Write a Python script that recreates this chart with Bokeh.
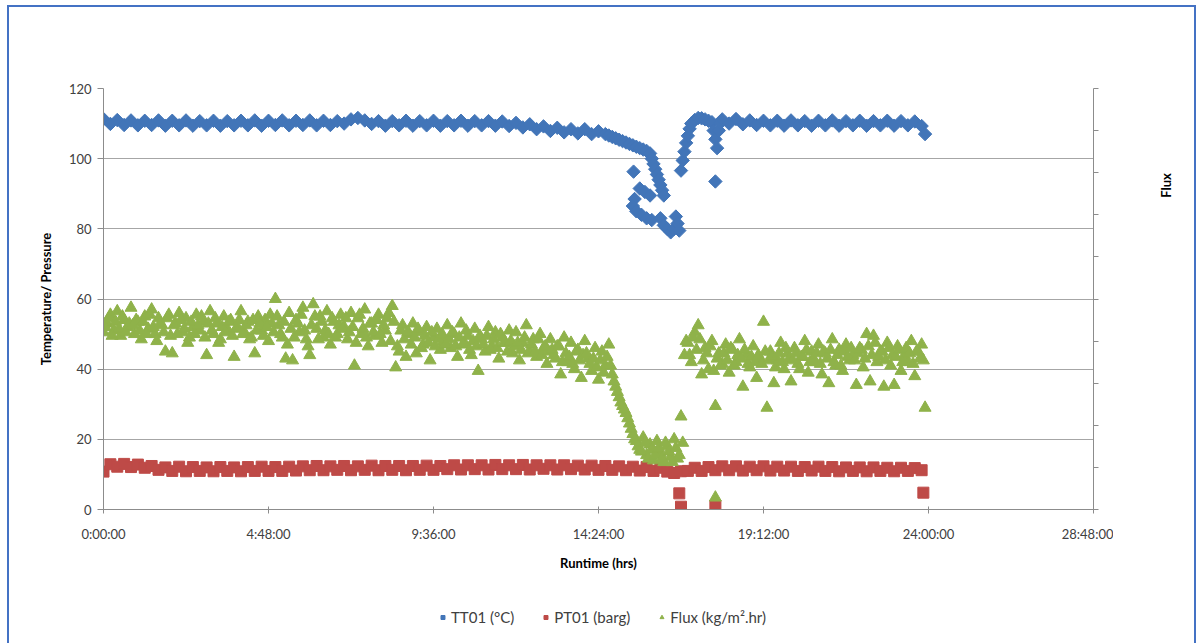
import numpy as np
from bokeh.plotting import figure
from bokeh.layouts import column, row
from bokeh.models import (Range1d, LinearAxis, FixedTicker, Legend, LegendItem, Label)
from bokeh.embed import file_html
from bokeh.resources import INLINE

# ---------------- data (runtime in hours) ----------------
x_ticks = [0, 4.8, 9.6, 14.4, 19.2, 24.0, 28.8]
x_tick_labels = ["0:00:00", "4:48:00", "9:36:00", "14:24:00", "19:12:00", "24:00:00", "28:48:00"]
y_ticks = [0, 20, 40, 60, 80, 100, 120]

# TT01 logged every 0.2 h before the upset
tt_pre_start, tt_pre_step = 0.0, 0.2
tt_pre = [111.3, 109.9, 111.0, 109.6, 110.9, 109.5, 110.8, 109.6, 110.9, 109.4,
          110.8, 109.5, 110.9, 109.4, 110.7, 109.5, 110.8, 109.4, 110.7, 109.5,
          110.8, 109.5, 110.9, 109.4, 110.8, 109.6, 110.9, 109.5, 110.8, 109.6,
          110.9, 109.5, 110.8, 109.6, 110.7, 110.0, 111.2, 111.6, 110.9, 109.9,
          110.7, 109.4, 110.7, 109.5, 110.8, 109.4, 110.7, 109.5, 110.8, 109.4,
          110.7, 109.5, 110.8, 109.4, 110.7, 109.5, 110.7, 109.4, 110.6, 109.3,
          110.2, 108.9, 109.8, 108.4, 109.2, 107.9, 108.8, 107.5, 108.4, 107.2,
          108.4, 107.0, 107.8]
# TT01 during the upset
tt_dip_t = [14.6, 14.7, 14.8, 14.9, 15.0, 15.1, 15.2, 15.3, 15.4, 15.5, 15.6, 15.7, 15.8, 15.9,
            15.95, 16.0, 16.05, 16.1, 16.15, 16.2, 16.25, 16.3,
            15.42,
            15.6, 15.75, 15.9, 15.45, 15.4, 15.5, 15.65, 15.8, 15.95,
            16.2, 16.3, 16.4, 16.5, 16.6, 16.65, 16.7, 16.75,
            16.8, 16.85, 16.9, 16.95, 17.0, 17.05, 17.1, 17.2, 17.3, 17.4, 17.5, 17.6, 17.7,
            17.75, 17.8, 17.85, 17.8, 17.9, 17.95]
tt_dip_v = [107.0, 106.6, 106.2, 105.8, 105.4, 105.0, 104.6, 104.2, 103.8, 103.4, 103.0, 102.6, 102.2, 101.5,
            100.0, 98.5, 97.0, 95.5, 94.0, 92.5, 91.0, 89.5,
            96.3,
            91.5, 90.5, 89.5, 88.5, 86.5, 85.0, 84.0, 83.0, 82.5,
            83.0, 81.0, 80.0, 79.0, 80.0, 83.5, 81.5, 79.5,
            96.6, 99.5, 102.0, 104.5, 106.5, 108.5, 110.0, 111.0, 111.6, 111.5, 111.2, 110.8, 110.4,
            108.0, 105.5, 103.0, 93.5, 108.0, 110.2]
# TT01 after the upset, every 0.2 h
tt_post_start, tt_post_step = 18.0, 0.2
tt_post = [111.2, 110.0, 111.3, 109.8, 110.9, 109.6, 110.8, 109.5, 110.8, 109.4,
           110.9, 109.5, 110.7, 109.4, 110.8, 109.5, 110.9, 109.4, 110.7, 109.5,
           110.8, 109.4, 110.7, 109.5, 110.8, 109.4, 110.7, 109.5, 110.6, 109.3]
tt_end_t = [23.9]
tt_end_v = [107.0]

# PT01 every 0.2 h
pt_start, pt_step = 0.0, 0.2
pt_vals = [10.8, 12.9, 12.2, 13.0, 12.1, 12.8, 11.9, 12.4, 11.3, 12.0,
           11.0, 12.2, 10.9, 12.1, 11.0, 12.0, 10.9, 12.1, 11.0, 12.0,
           10.9, 12.1, 11.0, 12.2, 11.0, 12.1, 11.0, 12.2, 11.1, 12.3,
           11.2, 12.4, 11.2, 12.3, 11.3, 12.4, 11.2, 12.3, 11.3, 12.5,
           11.2, 12.4, 11.3, 12.4, 11.2, 12.4, 11.3, 12.5, 11.3, 12.4,
           11.5, 12.6, 11.4, 12.6, 11.5, 12.6, 11.4, 12.7, 11.5, 12.6,
           11.5, 12.7, 11.4, 12.6, 11.6, 12.6, 11.4, 12.6, 11.5, 12.5,
           11.4, 12.5, 11.3, 12.4, 11.3, 12.3, 11.2, 12.2, 11.1, 12.1,
           11.0, 11.9, 10.8, 10.4, 10.9, 11.0, 11.9, 11.0, 12.1, 11.2,
           12.3, 11.2, 12.3, 11.1, 12.2, 11.2, 12.3, 11.1, 12.2, 11.1,
           12.2, 11.0, 12.1, 11.1, 12.2, 11.0, 12.1, 10.9, 12.0, 11.0,
           12.0, 10.9, 12.0, 11.0, 11.9, 10.9, 11.9, 11.0, 11.8, 11.2]
pt_evt_t = [16.75, 16.8, 17.8, 23.85]
pt_evt_v = [4.6, 0.8, 1.1, 4.8]

# Flux, first sampler every 0.1 h
fx_start, fx_step = 0.0, 0.1
fx_vals = [
    50.5, 53.0, 55.5, 51.0, 56.5, 49.5, 54.0, 52.0, 57.5, 50.0,
    53.5, 48.5, 55.0, 51.5, 57.0, 50.0, 54.5, 52.5, 45.0, 55.5,
    44.5, 53.0, 56.0, 50.5, 54.5, 49.0, 52.0, 55.5, 51.0, 53.5,
    44.0, 56.5, 50.0, 53.0, 48.5, 55.0, 51.5, 54.0, 43.5, 52.0,
    56.5, 50.5, 53.5, 49.0, 44.5, 55.0, 51.0, 54.0, 48.0, 53.0,
    60.0, 52.5, 49.0, 43.0, 56.0, 42.5, 54.0, 50.5, 57.5, 48.5,
    44.0, 58.5, 51.5, 55.0, 49.0, 56.5, 47.0, 53.5, 50.0, 55.5,
    52.0, 48.5, 56.0, 41.0, 54.5, 50.0, 57.0, 46.5, 53.0, 49.5,
    55.5, 47.5, 51.0, 56.0, 58.0, 40.5, 45.0, 52.5, 43.5, 50.0,
    53.0, 44.5, 50.5, 47.0, 52.0, 42.5, 49.0, 51.5, 45.5, 48.0,
    52.5, 46.0, 50.0, 43.5, 53.0, 47.5, 49.5, 44.0, 51.5, 39.5,
    48.5, 45.0, 52.0, 46.5, 50.5, 43.0, 49.0, 47.5, 51.0, 44.5,
    50.5, 42.5, 47.5, 52.5, 45.0, 48.5, 43.5, 50.0, 46.0, 41.5,
    48.5, 44.0, 46.5, 38.5, 49.0, 42.0, 47.5, 40.0, 45.5, 37.5,
    48.0, 43.0, 39.5, 46.0, 37.0, 45.0, 41.0, 47.0, 38.5, 35.0,
    32.0, 29.5, 27.5, 24.5, 21.5, 19.5, 17.0, 20.5, 15.5, 18.5,
    14.0, 19.5, 16.0, 13.5, 18.0, 15.0, 20.0, 14.5, 26.5, 44.0,
    47.5, 42.0, 50.5, 52.5, 38.5, 46.0, 40.0, 48.0, 29.5, 44.5,
    41.5, 47.0, 39.0, 45.5, 42.0, 48.5, 35.0, 44.0, 40.5, 46.5,
    37.5, 43.0, 53.5, 29.0, 45.0, 36.0, 42.5, 47.5, 40.0, 44.5,
    36.5, 46.0, 41.5, 43.5, 48.0, 39.0, 45.0, 42.0, 47.0, 38.5,
    44.5, 36.0, 48.5, 41.0, 45.5, 39.5, 47.0, 42.5, 44.0, 35.5,
    46.0, 40.5, 50.0, 36.5, 49.5, 42.0, 45.0, 35.0, 47.5, 41.0,
    35.5, 46.5, 39.5, 44.0, 42.0, 48.0, 38.0, 45.0, 47.0, 29.0]
# Flux, second sampler every 0.1 h (offset 0.05 h)
fx2_start, fx2_step = 0.05, 0.1
fx2_vals = [
    52.0, 54.5, 49.5, 53.5, 51.5, 55.0, 50.5, 53.0, 52.5, 54.0,
    51.0, 53.5, 50.0, 55.5, 52.0, 48.0, 53.0, 50.5, 54.5, 49.5,
    52.5, 50.0, 54.0, 51.5, 47.5, 53.5, 50.0, 52.5, 55.0, 49.0,
    53.0, 51.0, 54.5, 47.5, 52.0, 50.5, 53.5, 49.5, 51.5, 54.0,
    50.0, 52.5, 48.5, 54.0, 51.0, 53.0, 49.5, 52.0, 55.5, 50.5,
    55.0, 50.0, 53.5, 47.0, 51.5, 49.0, 53.0, 55.5, 51.0, 46.5,
    52.5, 55.0, 48.5, 53.5, 51.0, 50.0, 54.5, 49.0, 52.5, 51.5,
    54.5, 50.5, 52.0, 47.5, 55.5, 51.5, 49.0, 53.0, 50.5, 54.0,
    50.0, 52.5, 54.5, 48.0, 53.5, 46.5, 51.0, 48.5, 50.5, 47.0,
    49.0, 51.5, 46.0, 49.5, 47.5, 50.5, 46.5, 48.5, 50.0, 47.0,
    48.5, 50.5, 46.5, 49.0, 47.0, 51.0, 45.5, 48.0, 46.5, 49.5,
    47.0, 49.5, 45.5, 48.5, 46.0, 50.0, 47.5, 45.0, 48.0, 46.5,
    47.5, 45.5, 49.0, 44.5, 47.0, 45.0, 48.5, 44.0, 46.5, 45.0,
    45.5, 43.0, 46.5, 42.0, 44.5, 43.5, 41.5, 45.0, 42.5, 44.0,
    44.5, 41.5, 43.0, 40.5, 42.5, 39.0, 43.5, 41.0, 36.5, 33.5,
    30.5, 28.5, 26.0, 23.0, 20.0, 18.0, 16.5, 19.0, 14.5, 17.0,
    15.5, 17.5, 14.5, 19.0, 16.5, 13.5, 17.5, 15.5, 19.0, 48.0,
    44.0, 49.0, 45.5, 48.5, 42.5, 44.5, 46.5, 39.5, 43.0, 41.0,
    44.5, 42.5, 46.0, 41.0, 44.0, 43.0, 45.5, 41.5, 43.5, 42.0,
    44.0, 41.5, 45.0, 42.5, 43.5, 40.5, 44.5, 42.0, 46.0, 43.0,
    42.5, 44.5, 40.0, 43.5, 45.5, 42.0, 43.0, 44.5, 41.5, 45.0,
    43.0, 45.5, 42.0, 44.0, 41.0, 45.0, 43.5, 46.0, 42.5, 44.5,
    45.5, 43.0, 46.5, 44.0, 47.5, 43.5, 45.0, 42.5, 46.0, 44.0,
    43.5, 45.5, 42.0, 46.0, 44.5, 41.5, 45.0, 43.0, 42.5]
fx_evt_t = [17.8]
fx_evt_v = [3.4]


def grid(start, step, n):
    return [round(start + step * i, 3) for i in range(n)]


# ---------------- assemble ----------------
tt_t = grid(tt_pre_start, tt_pre_step, len(tt_pre)) + tt_dip_t + \
       grid(tt_post_start, tt_post_step, len(tt_post)) + tt_end_t
tt_v = tt_pre + tt_dip_v + tt_post + tt_end_v
pt_t = grid(pt_start, pt_step, len(pt_vals)) + pt_evt_t
pt_v = pt_vals + pt_evt_v
fx_t = grid(fx_start, fx_step, len(fx_vals)) + grid(fx2_start, fx2_step, len(fx2_vals)) + fx_evt_t
fx_v = fx_vals + fx2_vals + fx_evt_v

BLUE, RED, GREEN = "#4275B8", "#BE4A47", "#8FB24A"
FONT = "Lato"
GRID = "#A6A6A6"
AXIS = "#8C8C8C"

# ---------------- main chart ----------------
p = figure(frame_width=990, frame_height=421, x_range=Range1d(0, 28.8), y_range=Range1d(0, 120),
           output_backend="svg", toolbar_location=None,
           min_border_left=94, min_border_right=20, min_border_top=81, min_border_bottom=70)
p.outline_line_color = None
p.background_fill_color = "white"
p.border_fill_color = "white"

r_tt = p.scatter(tt_t, tt_v, marker="square", angle=np.pi / 4, size=9.5,
                 fill_color=BLUE, line_color=BLUE)
r_pt = p.scatter(pt_t, pt_v, marker="square", size=11, fill_color=RED, line_color=RED)
r_fx = p.scatter(fx_t, fx_v, marker="triangle", size=12, fill_color=GREEN, line_color=GREEN)

p.xgrid.visible = False
p.ygrid.ticker = FixedTicker(ticks=y_ticks)
p.ygrid.grid_line_color = GRID

ya = p.yaxis[0]
ya.ticker = FixedTicker(ticks=y_ticks)
ya.axis_line_color = AXIS
ya.major_tick_line_color = AXIS
ya.major_tick_out = 6
ya.major_tick_in = 0
ya.minor_tick_line_color = None
ya.major_label_text_font = FONT
ya.major_label_text_font_size = "13px"
ya.major_label_text_color = "#404040"
ya.major_label_standoff = 6
ya.axis_label = "Temperature/ Pressure"
ya.axis_label_text_font = FONT
ya.axis_label_text_font_style = "bold"
ya.axis_label_text_font_size = "13px"
ya.axis_label_text_color = "#000000"
ya.axis_label_standoff = 12

xa = p.xaxis[0]
xa.ticker = FixedTicker(ticks=x_ticks)
xa.major_label_overrides = dict(zip(x_ticks, x_tick_labels))
xa.axis_line_color = AXIS
xa.major_tick_line_color = AXIS
xa.major_tick_out = 4
xa.major_tick_in = 3
xa.minor_tick_line_color = None
xa.major_label_text_font = FONT
xa.major_label_text_font_size = "13px"
xa.major_label_text_color = "#404040"
xa.major_label_standoff = 12
xa.axis_label = "Runtime (hrs)"
xa.axis_label_text_font = FONT
xa.axis_label_text_font_style = "bold"
xa.axis_label_text_font_size = "13px"
xa.axis_label_text_color = "#000000"
xa.axis_label_standoff = 10

# right (secondary) axis, unlabeled ticks
flux_ticks = [0, 12, 24, 36, 48, 60, 72, 84, 96, 108, 120]
p.extra_y_ranges = {"flux": Range1d(0, 120)}
ra = LinearAxis(y_range_name="flux", ticker=FixedTicker(ticks=flux_ticks))
ra.major_label_text_font_size = "1px"
ra.major_label_text_alpha = 0
ra.axis_line_color = AXIS
ra.major_tick_line_color = AXIS
ra.major_tick_out = 5
ra.major_tick_in = 0
ra.minor_tick_line_color = None
p.add_layout(ra, "right")

# ---------------- strip on the right holding the secondary-axis title ----------------
p_right = figure(width=81, height=572, output_backend="svg", toolbar_location=None,
                 x_range=Range1d(0, 1), y_range=Range1d(0, 1),
                 x_axis_location=None, y_axis_location=None, min_border=0)
p_right.outline_line_color = None
p_right.grid.visible = False
p_right.add_layout(Label(x=52, y=324, x_units="screen", y_units="screen", text="Flux",
                         angle=np.pi / 2, text_font=FONT, text_font_style="bold",
                         text_font_size="13px", text_align="center", text_baseline="middle",
                         text_color="#000000"))

# ---------------- legend strip below ----------------
# legend keys reuse each series' first sample; it lies outside this strip's ranges
p_leg = figure(width=1185, height=76, output_backend="svg", toolbar_location=None,
               x_range=Range1d(0, 1), y_range=Range1d(0, 1),
               x_axis_location=None, y_axis_location=None, min_border=0)
p_leg.outline_line_color = None
p_leg.grid.visible = False
k_tt = p_leg.scatter(tt_t[:1], tt_v[:1], marker="square", angle=np.pi / 4, size=7,
                     fill_color=BLUE, line_color=BLUE)
k_pt = p_leg.scatter(pt_t[:1], pt_v[:1], marker="square", size=8, fill_color=RED, line_color=RED)
k_fx = p_leg.scatter(fx_t[:1], fx_v[:1], marker="triangle", size=10,
                     fill_color=GREEN, line_color=GREEN)
legend = Legend(items=[LegendItem(label="TT01 (°C)", renderers=[k_tt]),
                       LegendItem(label="PT01 (barg)", renderers=[k_pt]),
                       LegendItem(label="Flux (kg/m².hr)", renderers=[k_fx])],
                location="center", orientation="horizontal")
legend.border_line_color = None
legend.background_fill_alpha = 0
legend.label_text_font = FONT
legend.label_text_font_size = "15px"
legend.label_text_color = "#404040"
legend.glyph_width = 10
legend.glyph_height = 10
legend.label_standoff = 4
legend.spacing = 26
legend.padding = 4
legend.margin = 0
p_leg.add_layout(legend)

layout = column(row(p, p_right), p_leg,
                styles={"margin-left": "7px", "margin-top": "5px",
                        "border": "2px solid #4472C4"})

open("out.html", "w").write(file_html(layout, INLINE))
